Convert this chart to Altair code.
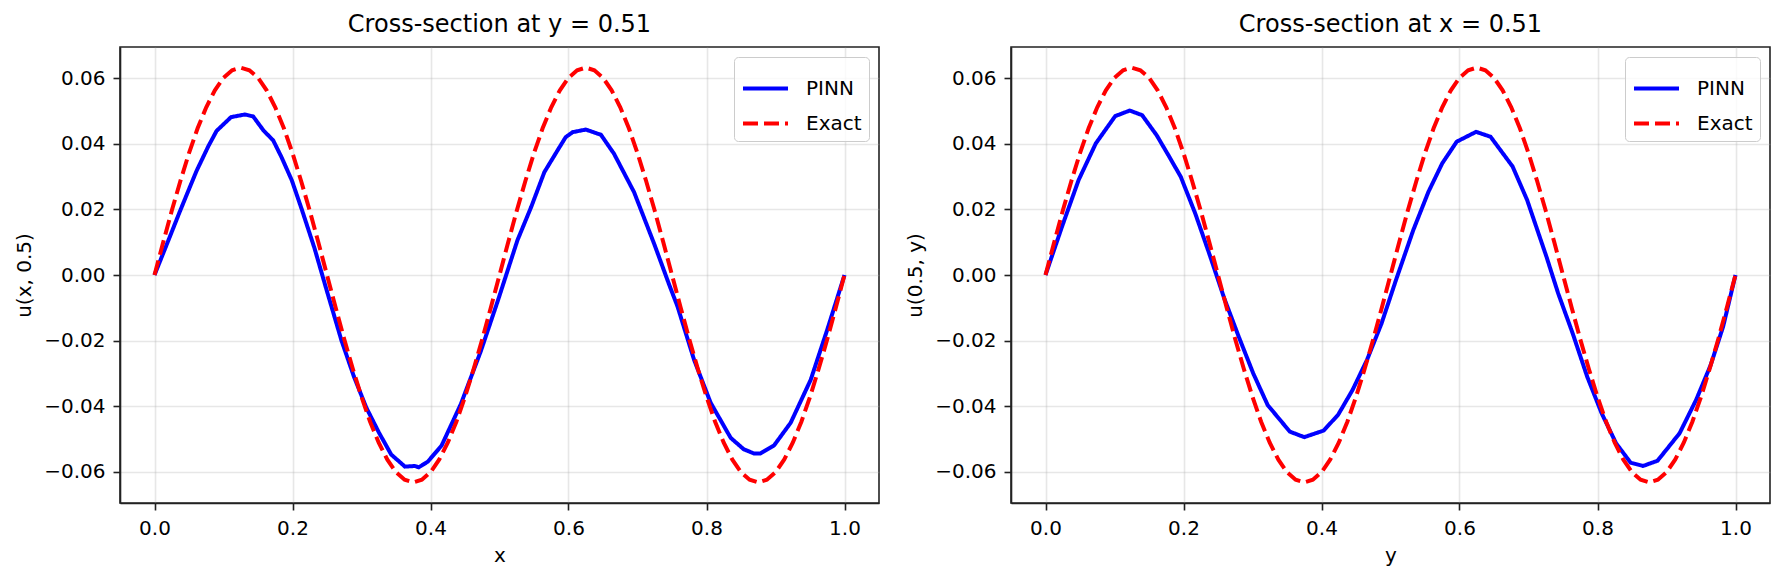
import altair as alt
import pandas as pd

# ---- PINN cross-section along x (y fixed) ----
pinn_x_s = [0.000, 0.020, 0.036, 0.050, 0.061, 0.078, 0.090, 0.111, 0.131, 0.143,
            0.158, 0.172, 0.184, 0.199, 0.213, 0.232, 0.250, 0.271, 0.289, 0.307,
            0.325, 0.343, 0.363, 0.377, 0.383, 0.396, 0.416, 0.444, 0.473, 0.498,
            0.526, 0.546, 0.565, 0.584, 0.596, 0.606, 0.625, 0.647, 0.666, 0.695,
            0.724, 0.746, 0.758, 0.782, 0.806, 0.835, 0.854, 0.869, 0.878, 0.898,
            0.922, 0.951, 0.975, 1.000]
pinn_x_u = [0.0000, 0.0105, 0.0190, 0.0262, 0.0318, 0.0393, 0.0440, 0.0482, 0.0490, 0.0484,
            0.0441, 0.0411, 0.0360, 0.0289, 0.0203, 0.0081, -0.0050, -0.0200, -0.0310, -0.0405,
            -0.0480, -0.0548, -0.0585, -0.0583, -0.0587, -0.0570, -0.0521, -0.0394, -0.0232, -0.0076,
            0.0106, 0.0208, 0.0314, 0.0380, 0.0421, 0.0436, 0.0444, 0.0428, 0.0370, 0.0253,
            0.0096, -0.0030, -0.0096, -0.0259, -0.0390, -0.0497, -0.0532, -0.0545, -0.0545, -0.0520,
            -0.0451, -0.0320, -0.0167, 0.0000]

# ---- PINN cross-section along y (x fixed) ----
pinn_y_s = [0.000, 0.024, 0.048, 0.073, 0.101, 0.122, 0.140, 0.161, 0.178, 0.196,
            0.217, 0.238, 0.259, 0.280, 0.301, 0.322, 0.354, 0.375, 0.403, 0.424,
            0.445, 0.466, 0.487, 0.508, 0.533, 0.555, 0.575, 0.596, 0.624, 0.645,
            0.677, 0.698, 0.726, 0.743, 0.764, 0.785, 0.806, 0.827, 0.848, 0.866,
            0.887, 0.919, 0.943, 0.964, 0.982, 1.000]
pinn_y_u = [0.0000, 0.0148, 0.0290, 0.0402, 0.0485, 0.0502, 0.0488, 0.0427, 0.0366, 0.0300,
            0.0188, 0.0061, -0.0071, -0.0188, -0.0300, -0.0397, -0.0478, -0.0495, -0.0475, -0.0427,
            -0.0351, -0.0259, -0.0148, -0.0015, 0.0137, 0.0254, 0.0341, 0.0407, 0.0437, 0.0422,
            0.0331, 0.0229, 0.0056, -0.0056, -0.0178, -0.0310, -0.0422, -0.0514, -0.0573, -0.0583,
            -0.0567, -0.0483, -0.0381, -0.0275, -0.0158, 0.0000]

# ---- exact solution along either line ----
exact_s = [0.0000, 0.0125, 0.0250, 0.0375, 0.0500, 0.0625, 0.0750, 0.0875, 0.1000, 0.1125,
           0.1250, 0.1375, 0.1500, 0.1625, 0.1750, 0.1875, 0.2000, 0.2125, 0.2250, 0.2375,
           0.2500, 0.2625, 0.2750, 0.2875, 0.3000, 0.3125, 0.3250, 0.3375, 0.3500, 0.3625,
           0.3750, 0.3875, 0.4000, 0.4125, 0.4250, 0.4375, 0.4500, 0.4625, 0.4750, 0.4875,
           0.5000, 0.5125, 0.5250, 0.5375, 0.5500, 0.5625, 0.5750, 0.5875, 0.6000, 0.6125,
           0.6250, 0.6375, 0.6500, 0.6625, 0.6750, 0.6875, 0.7000, 0.7125, 0.7250, 0.7375,
           0.7500, 0.7625, 0.7750, 0.7875, 0.8000, 0.8125, 0.8250, 0.8375, 0.8500, 0.8625,
           0.8750, 0.8875, 0.9000, 0.9125, 0.9250, 0.9375, 0.9500, 0.9625, 0.9750, 0.9875,
           1.0000]
exact_u = [0.0000, 0.0099, 0.0196, 0.0287, 0.0372, 0.0448, 0.0512, 0.0564, 0.0602, 0.0625,
           0.0633, 0.0625, 0.0602, 0.0564, 0.0512, 0.0448, 0.0372, 0.0287, 0.0196, 0.0099,
           0.0000, -0.0099, -0.0196, -0.0287, -0.0372, -0.0448, -0.0512, -0.0564, -0.0602, -0.0625,
           -0.0633, -0.0625, -0.0602, -0.0564, -0.0512, -0.0448, -0.0372, -0.0287, -0.0196, -0.0099,
           0.0000, 0.0099, 0.0196, 0.0287, 0.0372, 0.0448, 0.0512, 0.0564, 0.0602, 0.0625,
           0.0633, 0.0625, 0.0602, 0.0564, 0.0512, 0.0448, 0.0372, 0.0287, 0.0196, 0.0099,
           0.0000, -0.0099, -0.0196, -0.0287, -0.0372, -0.0448, -0.0512, -0.0564, -0.0602, -0.0625,
           -0.0633, -0.0625, -0.0602, -0.0564, -0.0512, -0.0448, -0.0372, -0.0287, -0.0196, -0.0099,
           0.0000]

series_names = ["PINN", "Exact"]
series_colors = ["#0000ff", "#ff0000"]
series_dashes = [[1, 0], [15, 6]]
x_ticks = [0.0, 0.2, 0.4, 0.6, 0.8, 1.0]
y_ticks = [-0.06, -0.04, -0.02, 0.0, 0.02, 0.04, 0.06]

FONT = "DejaVu Sans"
PLOT_W, PLOT_H = 759, 456


def frame(s, u, name):
    return pd.DataFrame({"s": s, "u": u, "series": name, "idx": range(len(s))})


def panel(title, xlab, ylab, ps, pu):
    legend = alt.Legend(
        title=None, orient="top-right", offset=10, padding=7,
        symbolType="stroke", symbolSize=2025, symbolStrokeWidth=4,
        labelFontSize=20, labelFont=FONT, labelColor="black", labelOffset=16,
        rowPadding=-5, fillColor="rgba(255,255,255,0.8)", strokeColor="#cccccc",
        cornerRadius=4,
    )
    enc = dict(
        x=alt.X("s:Q", title=xlab,
                scale=alt.Scale(domain=[-0.05, 1.05], nice=False, zero=False),
                axis=alt.Axis(values=x_ticks, format=".1f")),
        y=alt.Y("u:Q", title=ylab,
                scale=alt.Scale(domain=[-0.0696, 0.0696], nice=False, zero=False),
                axis=alt.Axis(values=y_ticks, format=".2f")),
        color=alt.Color("series:N", legend=legend,
                        scale=alt.Scale(domain=series_names, range=series_colors)),
        strokeDash=alt.StrokeDash("series:N", legend=legend,
                                  scale=alt.Scale(domain=series_names, range=series_dashes)),
        order="idx:Q",
    )
    pinn = alt.Chart(frame(ps, pu, "PINN")).mark_line(strokeWidth=4).encode(**enc)
    exact = alt.Chart(frame(exact_s, exact_u, "Exact")).mark_line(strokeWidth=4).encode(**enc)
    return alt.layer(pinn, exact, title=alt.Title(title)).properties(width=PLOT_W, height=PLOT_H)


left = panel("Cross-section at y = 0.51", "x", "u(x, 0.5)", pinn_x_s, pinn_x_u)
right = panel("Cross-section at x = 0.51", "y", "u(0.5, y)", pinn_y_s, pinn_y_u)

chart = (
    alt.hconcat(left, right, spacing=24)
    .resolve_scale(color="independent", strokeDash="independent")
    .resolve_legend(color="independent", strokeDash="independent")
    .properties(padding={"left": 13, "top": 12, "right": 5, "bottom": 5}, background="white")
    .configure_view(stroke="#222222", strokeWidth=1.6)
    .configure_axis(
        domainColor="#222222", domainWidth=1.6,
        tickColor="#222222", tickWidth=1.6, tickSize=7,
        labelFont=FONT, labelFontSize=20, labelColor="black", labelPadding=8,
        titleFont=FONT, titleFontSize=20, titleColor="black", titleFontWeight="normal",
        gridColor="#b0b0b0", gridOpacity=0.3, gridWidth=1.6,
    )
    .configure_axisX(titlePadding=7)
    .configure_axisY(titlePadding=9)
    .configure_title(font=FONT, fontSize=24, fontWeight="normal", color="black",
                     baseline="alphabetic", offset=10)
)

chart.save("out.html", embed_options={"renderer": "svg", "actions": False})
